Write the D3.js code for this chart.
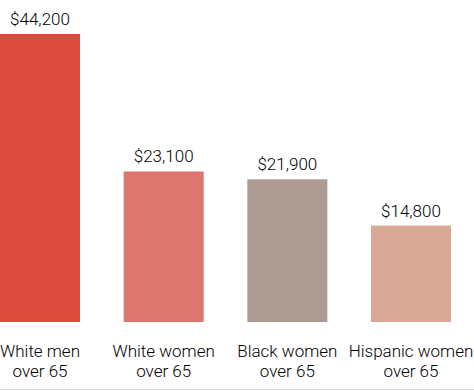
<!DOCTYPE html>
<html><head><meta charset="utf-8">
<script src="https://cdn.jsdelivr.net/npm/d3@7"></script>
<style>body{margin:0;background:#fff}svg{display:block}text{font-family:Roboto,sans-serif;font-weight:300}</style>
</head><body>
<script>
const categories = ["White men|over 65", "White women|over 65", "Black women|over 65", "Hispanic women|over 65"];
const values = [44200, 23100, 21900, 14800];
const colors = ["#db4a3d", "#dc766f", "#ab9b93", "#d9a796"];

const W = 474, H = 391;
const svg = d3.select("body").append("svg").attr("width", W).attr("height", H);
const x = d3.scaleBand().domain(categories).range([0, 451]).paddingInner(0.353).paddingOuter(0);
const y = d3.scaleLinear().domain([0, 44200]).range([322, 34]);
const fmt = d3.format("$,");

svg.selectAll("rect.bar").data(values).join("rect")
  .attr("x", (d, i) => x(categories[i]))
  .attr("y", d => y(d))
  .attr("width", x.bandwidth())
  .attr("height", d => y(0) - y(d))
  .attr("fill", (d, i) => colors[i]);

svg.selectAll("text.val").data(values).join("text")
  .attr("x", (d, i) => x(categories[i]) + x.bandwidth() / 2)
  .attr("y", d => y(d) - 9)
  .attr("text-anchor", "middle")
  .attr("font-size", 17)
  .attr("fill", "#000")
  .text(d => fmt(d));

const lab = svg.selectAll("text.cat").data(categories).join("text")
  .attr("text-anchor", "middle")
  .attr("font-size", 17)
  .attr("fill", "#000");
lab.each(function(d) {
  const parts = d.split("|");
  const cx = x(d) + x.bandwidth() / 2;
  d3.select(this).selectAll("tspan").data(parts).join("tspan")
    .attr("x", cx).attr("y", (p, j) => 357 + j * 20).text(p => p);
});

svg.append("line").attr("x1", 0).attr("x2", W).attr("y1", 389.5).attr("y2", 389.5)
  .attr("stroke", "#ddd").attr("stroke-width", 1);
</script>
</body></html>
